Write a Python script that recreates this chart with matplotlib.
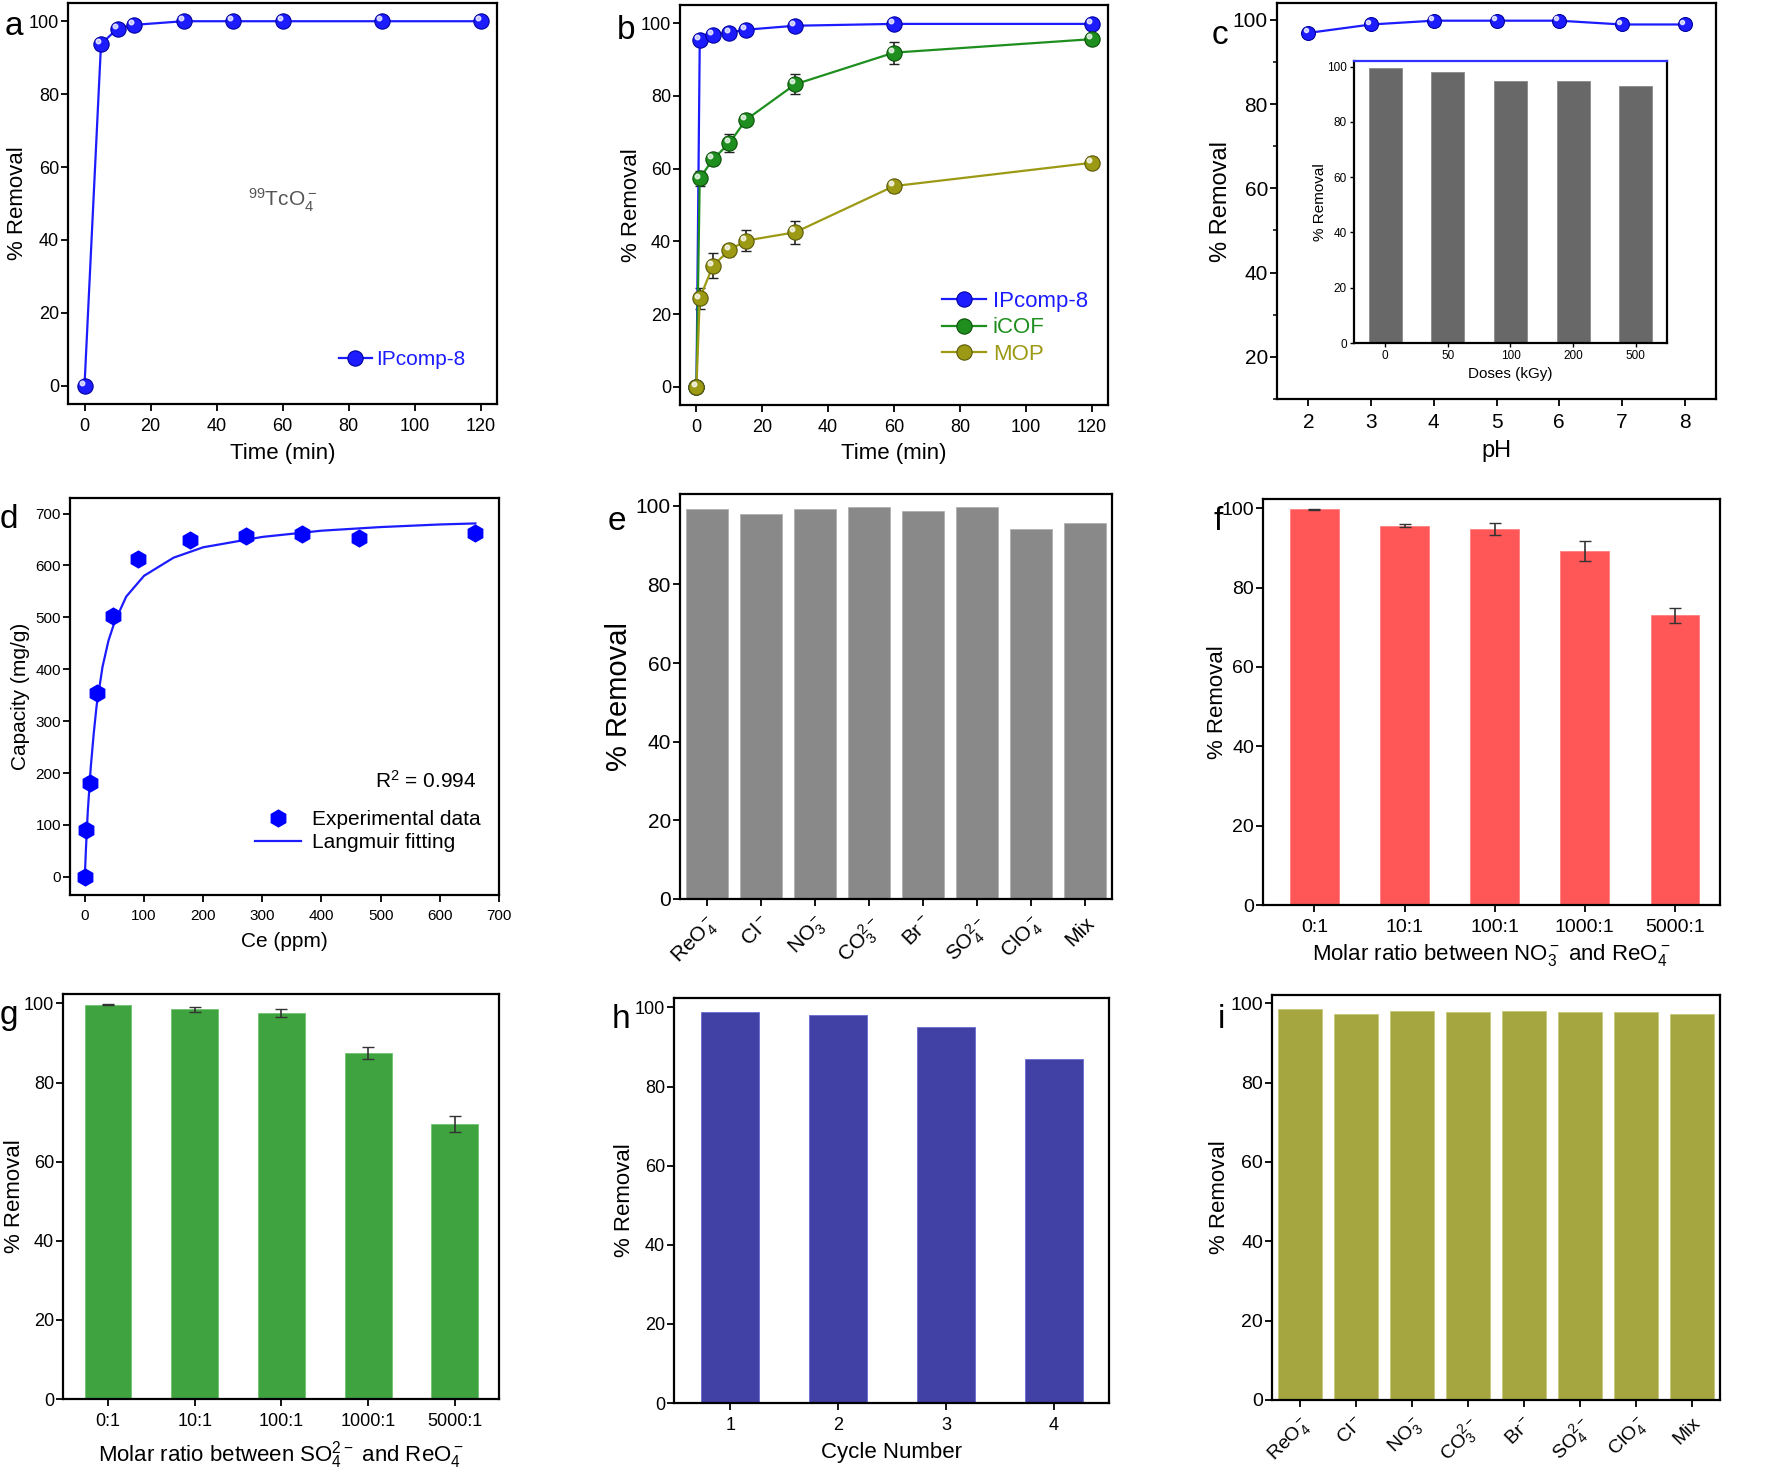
import matplotlib.pyplot as plt
import matplotlib.transforms as mtransforms
from matplotlib.ticker import AutoMinorLocator

plt.rcParams['font.family'] = ['Liberation Sans', 'DejaVu Sans']
plt.rcParams['mathtext.fontset'] = 'custom'
plt.rcParams['mathtext.rm'] = 'Liberation Sans'
plt.rcParams['mathtext.it'] = 'Liberation Sans:italic'
plt.rcParams['mathtext.default'] = 'regular'
plt.rcParams['axes.linewidth'] = 1.6

# ---- data ----
# (a) kinetics IPcomp-8
t_a = [0, 5, 10, 15, 30, 45, 60, 90, 120]
rem_a = [0, 93.7, 98.0, 99.0, 100, 100, 100, 100, 100]

# (b) kinetics comparison
t_b = [0, 1, 5, 10, 15, 30, 60, 120]
ipcomp_b = [0, 95.3, 96.8, 97.4, 98.2, 99.3, 99.8, 99.8]
ipcomp_err = [0, 0.8, 0.8, 0.8, 0.8, 0.8, 0.8, 0.8]
icof_b = [0, 57.3, 62.6, 67.0, 73.4, 83.2, 91.9, 95.6]
icof_err = [0, 2.0, 1.5, 2.5, 1.5, 2.7, 3.0, 1.0]
mop_b = [0, 24.3, 33.3, 37.6, 40.2, 42.5, 55.2, 61.6]
mop_err = [0, 3.0, 3.5, 1.5, 2.8, 3.2, 1.5, 1.5]

# (c) pH effect + irradiation inset
ph = [2, 3, 4, 5, 6, 7, 8]
rem_ph = [96.9, 98.9, 99.8, 99.8, 99.8, 98.9, 98.9]
doses = ['0', '50', '100', '200', '500']
rem_dose = [99.3, 98.2, 94.8, 94.6, 92.8]

# (d) isotherm
ce = [0, 2.8, 8.5, 20, 48, 90, 178, 272, 367, 463, 660]
qe = [0, 90, 180, 354, 502, 613, 649, 656, 661, 653, 662]
ce_fit = [0, 2, 5, 10, 15, 20, 30, 40, 50, 70, 100, 150, 200, 300, 400, 500, 600, 660]
qe_fit = [0, 55, 125, 210, 275, 330, 405, 455, 490, 540, 580, 615, 635, 655, 667, 674, 679, 681]

# (e) competing anions
anions = [r'ReO$_4^-$', r'Cl$^-$', r'NO$_3^-$', r'CO$_3^{2-}$', r'Br$^-$',
          r'SO$_4^{2-}$', r'ClO$_4^-$', 'Mix']
rem_e = [99.3, 98.0, 99.2, 99.6, 98.7, 99.6, 94.1, 95.5]

# (f) NO3- excess
ratios = ['0:1', '10:1', '100:1', '1000:1', '5000:1']
rem_f = [99.7, 95.6, 94.8, 89.3, 73.0]
err_f = [0.1, 0.3, 1.5, 2.5, 1.9]

# (g) SO4 2- excess
rem_g = [99.7, 98.5, 97.5, 87.5, 69.5]
err_g = [0.1, 0.6, 1.0, 1.6, 2.0]

# (h) recycling
cycles = [1, 2, 3, 4]
rem_h = [98.9, 98.0, 95.0, 86.9]

# (i) competing anions, second set
rem_i = [98.6, 97.4, 98.0, 97.7, 98.0, 97.8, 97.8, 97.2]

W, H = 1781, 1476
fig = plt.figure(figsize=(W / 100, H / 100), dpi=100)


def frame(l, t, r, b):
    return fig.add_axes([l / W, 1 - b / H, (r - l) / W, (b - t) / H])


def style(ax, size=13):
    ax.tick_params(direction='out', length=5, width=1.3, labelsize=size)
    ax.tick_params(axis='y', pad=1.5)
    ax.tick_params(axis='x', pad=5)
    ax.tick_params(which='minor', direction='out', length=3, width=1.1)


def labels(ax, xl, yl, xs, ys, xy=None, yx=None):
    if xl:
        ax.set_xlabel(xl, fontsize=xs)
        ax.xaxis.set_label_coords(0.5, xy)
    ax.set_ylabel(yl, fontsize=ys)
    ax.yaxis.set_label_coords(yx, 0.5)


def balls(ax, x, y, color, edge, label=None, ms=11, lw=1.6):
    ax.plot(x, y, '-', color=color, lw=lw, marker='o', ms=ms, mfc=color,
            mec=edge, mew=0.8, label=label)
    hl = mtransforms.offset_copy(ax.transData, fig=fig, x=-2, y=2, units='points')
    ax.plot(x, y, 'o', ms=ms * 0.3, color='white', alpha=0.75, lw=0, transform=hl)


def letter(x, y, s):
    fig.text(x / W, 1 - y / H, s, fontsize=24, ha='left', va='baseline')


BLUE = '#1c1cff'
GREEN = '#1e8f1e'
OLIVE = '#9c9a14'

# ---- (a) ----
ax = frame(68, 3, 497, 404)
balls(ax, t_a, rem_a, BLUE, '#0000a0', label='IPcomp-8')
ax.set_xlim(-5, 125)
ax.set_ylim(-5, 105)
ax.set_xticks([0, 20, 40, 60, 80, 100, 120])
ax.set_yticks([0, 20, 40, 60, 80, 100])
labels(ax, 'Time (min)', '% Removal', 16, 16, -0.097, -0.093)
ax.text(60, 51, r'$^{99}$TcO$_4^-$', ha='center', va='center', fontsize=15, color='#555555')
ax.legend(loc='lower right', bbox_to_anchor=(0.97, 0.04), frameon=False, fontsize=15,
          handlelength=1.6, handletextpad=0.2, labelcolor=BLUE)
style(ax, 13)
letter(5, 35, 'a')

# ---- (b) ----
ax = frame(680, 5, 1108, 405)
for y, e, c, d, lab in [(ipcomp_b, ipcomp_err, BLUE, '#0000a0', 'IPcomp-8'),
                        (icof_b, icof_err, GREEN, '#0b4f0b', 'iCOF'),
                        (mop_b, mop_err, OLIVE, '#5a5808', 'MOP')]:
    ax.errorbar(t_b, y, yerr=e, fmt='none', ecolor='#222222', elinewidth=1.2, capsize=3.5, zorder=1)
    balls(ax, t_b, y, c, d, label=lab)
ax.set_xlim(-5, 125)
ax.set_ylim(-5, 105)
ax.set_xticks([0, 20, 40, 60, 80, 100, 120])
ax.set_yticks([0, 20, 40, 60, 80, 100])
labels(ax, 'Time (min)', '% Removal', 16, 16, -0.095, -0.089)
ax.legend(loc='lower right', bbox_to_anchor=(1.0, 0.05), frameon=False, fontsize=16,
          handlelength=2.0, handletextpad=0.3, labelspacing=0.25, labelcolor='linecolor')
style(ax, 13)
letter(617, 39, 'b')

# ---- (c) ----
ax = frame(1277, 3, 1716, 399)
balls(ax, ph, rem_ph, BLUE, '#0000a0', ms=10)
ax.set_xlim(1.5, 8.5)
ax.set_ylim(10, 104)
ax.set_xticks(ph)
ax.set_yticks([20, 40, 60, 80, 100])
ax.yaxis.set_minor_locator(AutoMinorLocator(2))
labels(ax, 'pH', '% Removal', 17, 17, -0.104, -0.103)
style(ax, 15)
letter(1212, 44, 'c')

ins = frame(1354, 61, 1667, 343)
ins.bar(range(len(doses)), rem_dose, width=0.53, color='#686868', edgecolor='#8a8a8a', lw=0.6)
ins.set_xlim(-0.5, 4.5)
ins.set_ylim(0, 102)
ins.set_xticks(range(len(doses)))
ins.set_xticklabels(doses)
ins.set_yticks([0, 20, 40, 60, 80, 100])
ins.spines['top'].set_color('#3030ff')
labels(ins, 'Doses (kGy)', '% Removal', 11, 11, -0.085, -0.087)
ins.tick_params(direction='out', length=3, width=1.0, labelsize=8.5, pad=2)

# ---- (d) ----
ax = frame(70, 498, 499, 895)
ax.plot(ce, qe, 'h', color='#0000ff', ms=12, mec='#0000ff', label='Experimental data', zorder=3)
ax.plot(ce_fit, qe_fit, '-', color=BLUE, lw=1.6, label='Langmuir fitting')
ax.set_xlim(-25, 700)
ax.set_ylim(-35, 730)
ax.set_xticks(range(0, 701, 100))
ax.set_yticks(range(0, 701, 100))
labels(ax, 'Ce (ppm)', 'Capacity (mg/g)', 15, 15, -0.092, -0.093)
ax.text(0.83, 0.27, r'R$^2$ = 0.994', transform=ax.transAxes, ha='center', va='baseline', fontsize=15)
ax.legend(loc='lower right', bbox_to_anchor=(1.0, 0.06), frameon=False, fontsize=15,
          handlelength=2.2, handletextpad=0.5, labelspacing=0.2)
style(ax, 11)
letter(0, 528, 'd')

# ---- (e) ----
ax = frame(680, 494, 1112, 899)
ax.bar(range(len(anions)), rem_e, width=0.76, color='#898989', edgecolor='#b0b0b0', lw=0.6)
ax.set_xlim(-0.5, 7.5)
ax.set_ylim(0, 103)
ax.set_xticks(range(len(anions)))
ax.set_xticklabels(anions, rotation=45, ha='right', rotation_mode='anchor')
ax.set_yticks([0, 20, 40, 60, 80, 100])
labels(ax, None, '% Removal', 0, 21, None, -0.108)
style(ax, 15)
letter(608, 530, 'e')

# ---- (f) ----
ax = frame(1263, 499, 1720, 905)
ax.bar(range(len(ratios)), rem_f, width=0.54, color='#ff5757', edgecolor='#ff8080', lw=0.6)
ax.errorbar(range(len(ratios)), rem_f, yerr=err_f, fmt='none', ecolor='#333333',
            elinewidth=1.2, capsize=4)
ax.set_xlim(-0.57, 4.5)
ax.set_ylim(0, 102.3)
ax.set_xticks(range(len(ratios)))
ax.set_xticklabels(ratios)
ax.set_yticks([0, 20, 40, 60, 80, 100])
labels(ax, r'Molar ratio between NO$_3^-$ and ReO$_4^-$', '% Removal', 16, 16, -0.092, -0.076)
style(ax, 14)
letter(1214, 530, 'f')

# ---- (g) ----
ax = frame(63, 994, 499, 1399)
ax.bar(range(len(ratios)), rem_g, width=0.54, color='#3fa33f', edgecolor='#6fc46f', lw=0.6)
ax.errorbar(range(len(ratios)), rem_g, yerr=err_g, fmt='none', ecolor='#333333',
            elinewidth=1.2, capsize=4)
ax.set_xlim(-0.52, 4.51)
ax.set_ylim(0, 102.4)
ax.set_xticks(range(len(ratios)))
ax.set_xticklabels(ratios)
ax.set_yticks([0, 20, 40, 60, 80, 100])
labels(ax, r'Molar ratio between SO$_4^{2-}$ and ReO$_4^-$', '% Removal', 16, 16, -0.100, -0.087)
style(ax, 13)
letter(0, 1024, 'g')

# ---- (h) ----
ax = frame(674, 998, 1109, 1403)
ax.bar(cycles, rem_h, width=0.54, color='#4141a5', edgecolor='#6a6ad0', lw=0.6)
ax.set_xlim(0.48, 4.51)
ax.set_ylim(0, 102.4)
ax.set_xticks(cycles)
ax.set_yticks([0, 20, 40, 60, 80, 100])
labels(ax, 'Cycle Number', '% Removal', 16, 16, -0.096, -0.090)
style(ax, 13)
letter(612, 1028, 'h')

# ---- (i) ----
ax = frame(1272, 995, 1720, 1400)
ax.bar(range(len(anions)), rem_i, width=0.77, color='#a6a640', edgecolor='#c8c878', lw=0.6)
ax.set_xlim(-0.5, 7.5)
ax.set_ylim(0, 102.1)
ax.set_xticks(range(len(anions)))
ax.set_xticklabels(anions, rotation=45, ha='right', rotation_mode='anchor')
ax.set_yticks([0, 20, 40, 60, 80, 100])
labels(ax, None, '% Removal', 0, 16, None, -0.094)
style(ax, 14)
letter(1218, 1028, 'i')

fig.savefig('out.png', dpi=100)
